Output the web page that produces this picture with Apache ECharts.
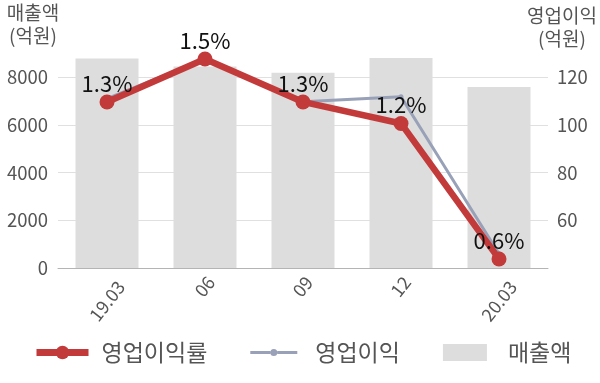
<!DOCTYPE html>
<html>
<head>
<meta charset="utf-8">
<script src="https://cdn.jsdelivr.net/npm/echarts@6/dist/echarts.min.js"></script>
<style>
html,body{margin:0;padding:0;background:#fff;}
#c{width:600px;height:383px;}
</style>
</head>
<body>
<div id="c"></div>
<script>
const categories = ['19.03', '06', '09', '12', '20.03'];
const salesValues = [8770, 8440, 8180, 8800, 7580];          // 매출액 (억원)
const opProfitValues = [110.9, 127.6, 109.6, 111.7, 46];     // 영업이익 (억원)
const opMarginValues = [1.30, 1.50, 1.30, 1.20, 0.57];       // 영업이익률 (%)
const leftAxisRange = [0, 8000, 2000];
const rightAxisRange = [40, 120, 20];
const marginAxisRange = [0.528, 1.416];
const seriesNames = ['영업이익률', '영업이익', '매출액'];

const FONT = "'Noto Sans CJK KR', 'Noto Sans', sans-serif";
const chart = echarts.init(document.getElementById('c'), null, {renderer: 'canvas'});

const grayIcon = 'path://M0,0 L0.01,0 L0,0.01 Z M52,17 L51.99,17 L52,16.99 Z ' +
  'M0,7 L20,7 L20,10 L0,10 Z M27,7 L47,7 L47,10 L27,10 Z ' +
  'M20,8.5 A3.5,3.5 0 1,0 27,8.5 A3.5,3.5 0 1,0 20,8.5 Z';
const barIcon = 'path://M0,0 L44,0 L44,17 L0,17 Z M52,8 L51.99,8 L52,8.01 Z';

chart.setOption({
  animation: false,
  textStyle: {fontFamily: FONT},
  grid: {left: 58, right: 52, top: 77, height: 191},
  legend: {
    left: 33, top: 341, padding: 0,
    itemWidth: 52, itemHeight: 17, itemGap: 43,
    textStyle: {fontSize: 23, color: '#555', fontFamily: FONT, padding: [0, 0, 0, 8]},
    data: [
      {name: seriesNames[0], lineStyle: {width: 7}},
      {name: seriesNames[1], icon: grayIcon},
      {name: seriesNames[2], icon: barIcon}
    ]
  },
  xAxis: {
    type: 'category',
    data: categories,
    axisTick: {show: false},
    axisLine: {lineStyle: {color: '#b4b4b4', width: 1}},
    axisLabel: {
      rotate: 52, align: 'center', verticalAlign: 'middle', margin: 33,
      fontSize: 18, color: '#555', fontFamily: FONT, interval: 0,
      formatter: v => v.length > 2 ? '{l|' + v + '}' : '{s|' + v + '}',
      rich: {
        l: {fontSize: 18, color: '#555', fontFamily: FONT},
        s: {fontSize: 18, color: '#555', fontFamily: FONT, padding: [0, 0, 18.6, 22.2]}
      }
    }
  },
  yAxis: [
    {
      type: 'value', min: leftAxisRange[0], max: leftAxisRange[1], interval: leftAxisRange[2],
      name: '매출액\n(억원)', nameLocation: 'end', nameGap: 30,
      nameTextStyle: {fontSize: 19, color: '#555', align: 'center', verticalAlign: 'bottom',
        lineHeight: 22.5, padding: [0, 50, 0, 0], fontFamily: FONT},
      axisLine: {show: false}, axisTick: {show: false},
      axisLabel: {fontSize: 18.5, color: '#555', margin: 10, fontFamily: FONT, formatter: v => String(v)},
      splitLine: {lineStyle: {color: '#e0e0e0', width: 1}}
    },
    {
      type: 'value', min: rightAxisRange[0], max: rightAxisRange[1], interval: rightAxisRange[2],
      position: 'right',
      name: '영업이익\n(억원)', nameLocation: 'end', nameGap: 27,
      nameTextStyle: {fontSize: 19, color: '#555', align: 'center', verticalAlign: 'bottom',
        lineHeight: 22.5, padding: [0, 0, 0, 28], fontFamily: FONT},
      axisLine: {show: false}, axisTick: {show: false},
      axisLabel: {fontSize: 18.5, color: '#555', margin: 9, showMinLabel: false, fontFamily: FONT},
      splitLine: {show: false}
    },
    {
      type: 'value', min: marginAxisRange[0], max: marginAxisRange[1], show: false,
      splitLine: {show: false}
    }
  ],
  series: [
    {
      name: seriesNames[2], type: 'bar', yAxisIndex: 0, data: salesValues,
      barWidth: 63, clip: false,
      itemStyle: {color: '#dddddd'}
    },
    {
      name: seriesNames[1], type: 'line', yAxisIndex: 1, data: opProfitValues,
      clip: false, symbol: 'circle', symbolSize: 5,
      itemStyle: {color: '#98a1b8'},
      lineStyle: {color: '#98a1b8', width: 3}
    },
    {
      name: seriesNames[0], type: 'line', yAxisIndex: 2, data: opMarginValues,
      clip: false, symbol: 'circle', symbolSize: 15,
      itemStyle: {color: '#c23b3a'},
      lineStyle: {color: '#c23b3a', width: 6.5},
      label: {
        show: true, position: 'top', distance: 0,
        fontSize: 22, color: '#111', fontFamily: FONT,
        formatter: p => p.value.toFixed(1) + '%'
      }
    }
  ]
});
</script>
</body>
</html>
